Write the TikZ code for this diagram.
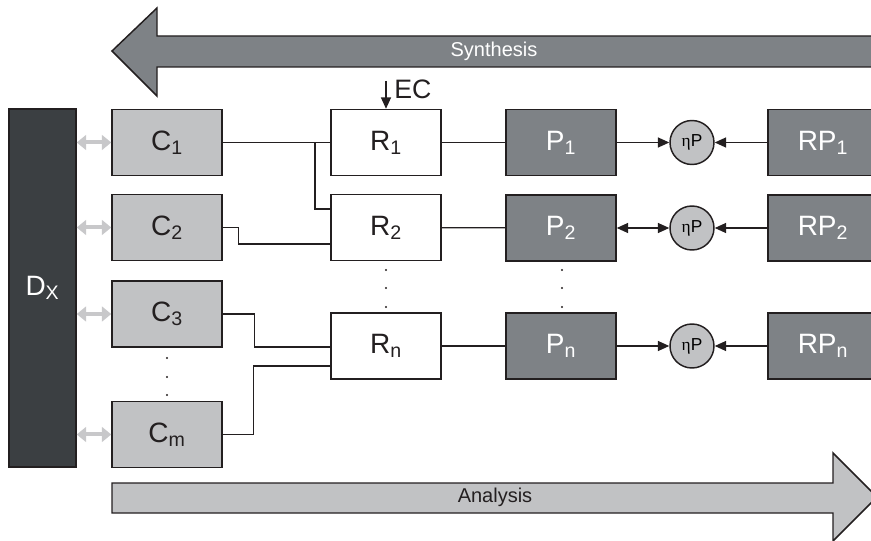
\documentclass[tikz,border=0pt]{standalone}
\usepackage{fontspec}
\setmainfont{Liberation Sans}
\newfontfamily\etafont{Liberation Serif}
\usetikzlibrary{arrows.meta,calc}

\definecolor{linedark}{HTML}{231F20}
\definecolor{dgray}{HTML}{3B3F42}
\definecolor{mgray}{HTML}{7E8286}
\definecolor{lgray}{HTML}{C1C2C4}
\definecolor{agray}{HTML}{C8C8CA}

\tikzset{
  box/.style={draw=linedark, line width=1.1pt, minimum width=82.5pt,
    minimum height=49.5pt, inner sep=0pt, font=\fontsize{21}{24}\selectfont},
  cbox/.style={box, fill=lgray, text=linedark},
  rbox/.style={box, fill=white, text=linedark},
  pbox/.style={box, fill=mgray, text=white},
  etanode/.style={circle, draw=linedark, line width=1.1pt, fill=lgray,
    minimum size=33pt, inner sep=0pt, font=\fontsize{13}{15}\selectfont},
  blackarrow/.style={-{Triangle[length=8.5pt,width=7.5pt]}, line width=0.9pt, draw=linedark},
  grayarrow/.style={{Triangle[length=7pt,width=11pt]}-{Triangle[length=7pt,width=11pt]},
    line width=3pt, draw=agray},
  wire/.style={line width=0.9pt, draw=linedark}
}

\begin{document}
\begin{tikzpicture}[x=0.75pt,y=-0.75pt]
\clip (0,0) rectangle (871,541);

% big arrows
\draw[fill=mgray, draw=linedark, line width=1.1pt]
  (112,51) -- (157,8) -- (157,36) -- (890,36) -- (890,67) -- (157,67) -- (157,96) -- cycle;
\node[text=white, font=\fontsize{15}{18}\selectfont] (synth) at (494,51) {Synthesis};
\draw[fill=lgray, draw=linedark, line width=1.1pt]
  (112,483) -- (833,483) -- (833,453) -- (877,497) -- (833,541) -- (833,513) -- (112,513) -- cycle;
\node[text=linedark, font=\fontsize{15}{18}\selectfont] (anal) at (495,497) {Analysis};

% data block
\node[box, fill=dgray, text=white, minimum width=50.25pt, minimum height=268.5pt] (D) at (42.5,288) {D\textsubscript{X}};

% components
\node[cbox] (C1) at (167,142.5) {C\textsubscript{1}};
\node[cbox] (C2) at (167,227.5) {C\textsubscript{2}};
\node[cbox] (C3) at (167,314) {C\textsubscript{3}};
\node[cbox] (Cm) at (167,434.5) {C\textsubscript{m}};

\node[rbox] (R1) at (386,142.5) {R\textsubscript{1}};
\node[rbox] (R2) at (386,227.5) {R\textsubscript{2}};
\node[rbox] (Rn) at (386,346) {R\textsubscript{n}};

\node[pbox] (P1) at (561,142.5) {P\textsubscript{1}};
\node[pbox] (P2) at (561,228) {P\textsubscript{2}};
\node[pbox] (Pn) at (561,346) {P\textsubscript{n}};

\node[etanode] (eta1) at (692,142.5) {{\etafont η}P};
\node[etanode] (eta2) at (692,228) {{\etafont η}P};
\node[etanode] (etan) at (692,346) {{\etafont η}P};

\node[pbox] (RP1) at (823,142.5) {RP\textsubscript{1}};
\node[pbox] (RP2) at (823,228) {RP\textsubscript{2}};
\node[pbox] (RPn) at (823,346) {RP\textsubscript{n}};

% gray links
\draw[grayarrow] (D.east |- C1) -- (C1.west);
\draw[grayarrow] (D.east |- C2) -- (C2.west);
\draw[grayarrow] (D.east |- C3) -- (C3.west);
\draw[grayarrow] (D.east |- Cm) -- (Cm.west);

% wiring
\coordinate (j1) at (315,142.5);
\draw[wire] (C1) -- (R1);
\draw[wire] (j1) |- ($(R2.west)+(0,-18.5)$);
\draw[wire] (C2.east) -- ++(16,0) |- ($(R2.west)+(0,16.5)$);
\draw[wire] (C3.east) -- ++(32,0) |- ($(Rn.west)+(0,1)$);
\draw[wire] (Cm.east) -- ++(31,0) |- ($(Rn.west)+(0,20)$);

\draw[wire] (R1) -- (P1);
\draw[wire] (R2) -- (P2);
\draw[wire] (Rn) -- (Pn);

\draw[blackarrow] (P1) -- (eta1);
\draw[blackarrow, {Triangle[length=8.5pt,width=7.5pt]}-{Triangle[length=8.5pt,width=7.5pt]}] (P2) -- (eta2);
\draw[blackarrow] (Pn) -- (etan);
\draw[blackarrow] (RP1) -- (eta1);
\draw[blackarrow] (RP2) -- (eta2);
\draw[blackarrow] (RPn) -- (etan);

% EC input
\coordinate (ec) at (386,81);
\draw[blackarrow] (ec) -- (R1.north);
\node[anchor=west, text=linedark, font=\fontsize{20}{22}\selectfont, inner sep=0pt] (eclabel) at (394,89) {EC};

% dots
\foreach \y in {270,288,307} {
  \fill[linedark] (386,\y) circle (0.8pt);
  \fill[linedark] (562,\y) circle (0.8pt);
}
\foreach \y in {358,377,395}
  \fill[linedark] (167,\y) circle (0.8pt);
\end{tikzpicture}
\end{document}
